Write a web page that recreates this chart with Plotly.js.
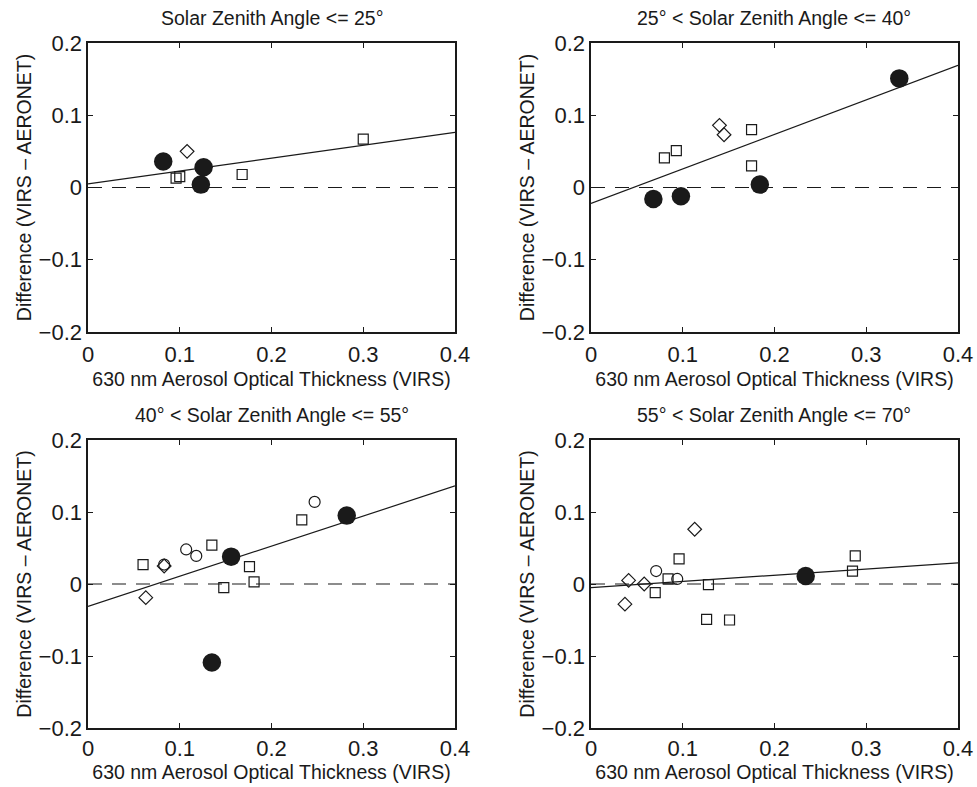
<!DOCTYPE html>
<html>
<head>
<meta charset="utf-8">
<script src="https://cdn.plot.ly/plotly-3.0.1.min.js"></script>
<style>html,body{margin:0;padding:0;background:#fff;}#chart{width:977px;height:787px;}</style>
</head>
<body>
<div id="chart"></div>
<script>
// ---- Data ----
const panelTitles = [
  'Solar Zenith Angle &lt;= 25°',
  '25° &lt; Solar Zenith Angle &lt;= 40°',
  '40° &lt; Solar Zenith Angle &lt;= 55°',
  '55° &lt; Solar Zenith Angle &lt;= 70°'
];
const xTitle = '630 nm Aerosol Optical Thickness (VIRS)';
const yTitle = 'Difference (VIRS – AERONET)';
const xTickVals = [0, 0.1, 0.2, 0.3, 0.4];
const xTickText = ['0', '0.1', '0.2', '0.3', '0.4'];
const yTickVals = [-0.2, -0.1, 0, 0.1, 0.2];
const yTickText = ['\u22120.2', '\u22120.1', '0', '0.1', '0.2'];
const xRange = [0, 0.4];
const yRange = [-0.2, 0.2];

// Panel 1: SZA <= 25
const p1FilledX = [0.082, 0.126, 0.123];
const p1FilledY = [0.036, 0.028, 0.004];
const p1SquareX = [0.096, 0.100, 0.168, 0.300];
const p1SquareY = [0.013, 0.015, 0.018, 0.067];
const p1DiamondX = [0.108];
const p1DiamondY = [0.050];
const p1CircleX = [];
const p1CircleY = [];
const p1Fit = [0.005, 0.178]; // intercept, slope

// Panel 2: 25 < SZA <= 40
const p2FilledX = [0.068, 0.098, 0.184, 0.336];
const p2FilledY = [-0.016, -0.012, 0.004, 0.151];
const p2SquareX = [0.080, 0.093, 0.175, 0.175];
const p2SquareY = [0.041, 0.051, 0.080, 0.030];
const p2DiamondX = [0.140, 0.145];
const p2DiamondY = [0.086, 0.073];
const p2CircleX = [];
const p2CircleY = [];
const p2Fit = [-0.022, 0.478];

// Panel 3: 40 < SZA <= 55
const p3FilledX = [0.156, 0.135, 0.282];
const p3FilledY = [0.038, -0.109, 0.095];
const p3SquareX = [0.060, 0.135, 0.148, 0.176, 0.181, 0.233];
const p3SquareY = [0.027, 0.054, -0.005, 0.024, 0.003, 0.089];
const p3DiamondX = [0.083, 0.063];
const p3DiamondY = [0.025, -0.019];
const p3CircleX = [0.083, 0.107, 0.118, 0.247];
const p3CircleY = [0.027, 0.048, 0.039, 0.114];
const p3Fit = [-0.031, 0.418];

// Panel 4: 55 < SZA <= 70
const p4FilledX = [0.234];
const p4FilledY = [0.011];
const p4SquareX = [0.070, 0.084, 0.096, 0.128, 0.126, 0.151, 0.285, 0.288];
const p4SquareY = [-0.012, 0.007, 0.035, -0.001, -0.049, -0.050, 0.018, 0.039];
const p4DiamondX = [0.037, 0.041, 0.058, 0.113];
const p4DiamondY = [-0.028, 0.005, 0.000, 0.076];
const p4CircleX = [0.071, 0.094];
const p4CircleY = [0.018, 0.007];
const p4Fit = [-0.005, 0.086];

// ---- Build ----
const panels = [
  {fx: p1FilledX, fy: p1FilledY, sx: p1SquareX, sy: p1SquareY, dx: p1DiamondX, dy: p1DiamondY, cx: p1CircleX, cy: p1CircleY, fit: p1Fit},
  {fx: p2FilledX, fy: p2FilledY, sx: p2SquareX, sy: p2SquareY, dx: p2DiamondX, dy: p2DiamondY, cx: p2CircleX, cy: p2CircleY, fit: p2Fit},
  {fx: p3FilledX, fy: p3FilledY, sx: p3SquareX, sy: p3SquareY, dx: p3DiamondX, dy: p3DiamondY, cx: p3CircleX, cy: p3CircleY, fit: p3Fit},
  {fx: p4FilledX, fy: p4FilledY, sx: p4SquareX, sy: p4SquareY, dx: p4DiamondX, dy: p4DiamondY, cx: p4CircleX, cy: p4CircleY, fit: p4Fit}
];

const INK = '#1a1a1a';
const FONT = 'Liberation Sans, Arial, Helvetica, sans-serif';
const W = 977, H = 787;
const xDomains = [[88 / W, 455 / W], [591 / W, 958 / W], [88 / W, 455 / W], [591 / W, 958 / W]];
const yDomains = [[1 - 332 / H, 1 - 43 / H], [1 - 332 / H, 1 - 43 / H], [1 - 728 / H, 1 - 440 / H], [1 - 728 / H, 1 - 440 / H]];
const tickStandoffs = [2, 2, 0, 0];
const titleStandoffs = [6, 6, 0, 0];

const traces = [];
const layout = {
  width: W, height: H,
  margin: {l: 0, r: 0, t: 0, b: 0},
  paper_bgcolor: '#fff', plot_bgcolor: '#fff',
  showlegend: false,
  font: {family: FONT, color: INK},
  annotations: []
};

panels.forEach((p, i) => {
  const n = i + 1;
  const xa = 'x' + (n === 1 ? '' : n), ya = 'y' + (n === 1 ? '' : n);
  // dashed zero line
  traces.push({x: xRange, y: [0, 0], xaxis: xa, yaxis: ya, mode: 'lines',
    line: {color: INK, width: 1.1, dash: '14px,10px'}, hoverinfo: 'skip'});
  // fitted line
  traces.push({x: xRange, y: xRange.map(v => p.fit[0] + p.fit[1] * v), xaxis: xa, yaxis: ya, mode: 'lines',
    line: {color: INK, width: 1.2}, hoverinfo: 'skip'});
  traces.push({x: p.sx, y: p.sy, xaxis: xa, yaxis: ya, mode: 'markers',
    marker: {symbol: 'square-open', size: 10, color: INK, line: {width: 1.2, color: INK}}});
  traces.push({x: p.dx, y: p.dy, xaxis: xa, yaxis: ya, mode: 'markers',
    marker: {symbol: 'diamond-open', size: 10.5, color: INK, line: {width: 1.2, color: INK}}});
  traces.push({x: p.cx, y: p.cy, xaxis: xa, yaxis: ya, mode: 'markers',
    marker: {symbol: 'circle-open', size: 11, color: INK, line: {width: 1.2, color: INK}}});
  traces.push({x: p.fx, y: p.fy, xaxis: xa, yaxis: ya, mode: 'markers',
    marker: {symbol: 'circle', size: 18.5, color: INK, line: {width: 0}}});

  const axCommon = {showline: true, linecolor: INK, linewidth: 1.6, mirror: 'ticks', ticks: 'inside',
    ticklen: 5, tickwidth: 1, tickcolor: INK, showgrid: false, zeroline: false,
    tickfont: {family: FONT, size: 22, color: INK}, fixedrange: true};
  layout['xaxis' + (n === 1 ? '' : n)] = Object.assign({}, axCommon, {
    domain: xDomains[i], range: xRange, anchor: ya, tickmode: 'array', tickvals: xTickVals, ticktext: xTickText,
    ticklabelstandoff: tickStandoffs[i],
    title: {text: xTitle, font: {family: FONT, size: 19.5, color: INK}, standoff: titleStandoffs[i]}
  });
  layout['yaxis' + (n === 1 ? '' : n)] = Object.assign({}, axCommon, {
    domain: yDomains[i], range: yRange, anchor: xa, tickmode: 'array', tickvals: yTickVals, ticktext: yTickText,
    title: {text: yTitle, font: {family: FONT, size: 19.5, color: INK}, standoff: 2}
  });
  layout.annotations.push({
    text: panelTitles[i], xref: 'paper', yref: 'paper',
    x: (xDomains[i][0] + xDomains[i][1]) / 2, y: yDomains[i][1] + 12 / H,
    xanchor: 'center', yanchor: 'bottom', showarrow: false,
    font: {family: FONT, size: 19.5, color: INK}
  });
});

Plotly.newPlot('chart', traces, layout, {displayModeBar: false, staticPlot: true});
</script>
</body>
</html>
